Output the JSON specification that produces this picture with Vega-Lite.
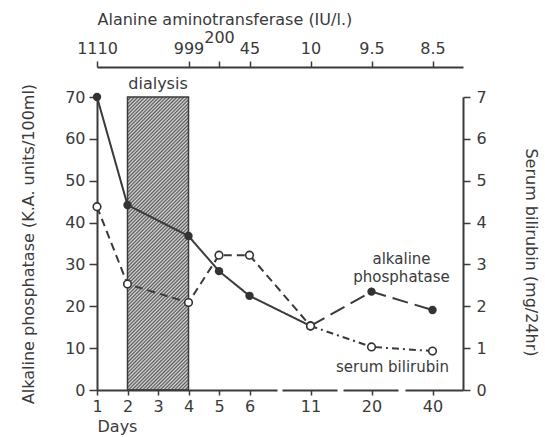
{
  "$schema": "https://vega.github.io/schema/vega-lite/v6.json",
  "width": 366,
  "height": 293,
  "autosize": "none",
  "padding": {"left": 97, "top": 97, "right": 82, "bottom": 47},
  "background": "white",
  "config": {
    "view": {"stroke": null},
    "font": "DejaVu Sans",
    "axis": {
      "domainColor": "#3a3a3a", "tickColor": "#3a3a3a", "labelColor": "#3a3a3a", "titleColor": "#3a3a3a",
      "labelFont": "DejaVu Sans", "titleFont": "DejaVu Sans", "titleFontWeight": "normal",
      "labelFontSize": 16, "titleFontSize": 16, "domainWidth": 2, "tickWidth": 1.5, "grid": false,
      "labelOverlap": false, "labelFlush": false
    }
  },
  "datasets": {
    "alk": [
      {"day": "1", "value": 70, "phase": "early"},
      {"day": "2", "value": 44.2, "phase": "early"},
      {"day": "4", "value": 36.8, "phase": "early"},
      {"day": "5", "value": 28.4, "phase": "early"},
      {"day": "6", "value": 22.5, "phase": "early"},
      {"day": "11", "value": 15.3, "phase": "early"},
      {"day": "11", "value": 15.3, "phase": "late"},
      {"day": "20", "value": 23.5, "phase": "late"},
      {"day": "40", "value": 19.1, "phase": "late"}
    ],
    "bili": [
      {"day": "1", "value": 4.38, "phase": "early"},
      {"day": "2", "value": 2.53, "phase": "early"},
      {"day": "4", "value": 2.09, "phase": "early"},
      {"day": "5", "value": 3.22, "phase": "early"},
      {"day": "6", "value": 3.22, "phase": "early"},
      {"day": "11", "value": 1.53, "phase": "early"},
      {"day": "11", "value": 1.53, "phase": "late"},
      {"day": "20", "value": 1.03, "phase": "late"},
      {"day": "40", "value": 0.93, "phase": "late"}
    ],
    "alt": [
      {"day": "1", "alt": "1110"},
      {"day": "4", "alt": "999"},
      {"day": "5", "alt": "200"},
      {"day": "6", "alt": "45"},
      {"day": "11", "alt": "10"},
      {"day": "20", "alt": "9.5"},
      {"day": "40", "alt": "8.5"}
    ]
  },
  "layer": [
    {
      "encoding": {
        "x": {
          "field": "day", "type": "ordinal",
          "scale": {"type": "point", "domain": ["1","2","3","4","5","6","7","11","15","20","30","40","50"], "range": [0, 366], "padding": 0},
          "axis": {
            "orient": "bottom", "values": ["1","2","3","4","5","6","11","20","40"], "title": "Days",
            "titleAnchor": "start", "labelAngle": 0, "tickSize": 5, "labelPadding": 3, "titlePadding": 4,
            "domainDash": [180, 5, 55, 6, 55, 7, 60]
          }
        },
        "y": {
          "field": "value", "type": "quantitative",
          "scale": {"domain": [0, 70], "nice": false},
          "axis": {
            "orient": "left", "values": [0,10,20,30,40,50,60,70],
            "title": "Alkaline phosphatase (K.A. units/100ml)", "tickSize": 8, "labelPadding": 4, "titlePadding": 28
          }
        }
      },
      "layer": [
        {
          "data": {"values": [{"event": "dialysis", "day": "2", "end": "4", "value": 70}]},
          "mark": {
            "type": "rect", "stroke": "#3a3a3a", "strokeWidth": 1.5,
            "fill": {
              "gradient": "linear", "x1": 0, "y1": 0, "x2": 0.2411, "y2": 1.158,
              "stops": [
{"offset":0,"color":"#555"},{"offset":0.005,"color":"#ddd"},{"offset":0.01,"color":"#555"},{"offset":0.015,"color":"#ddd"},{"offset":0.02,"color":"#555"},{"offset":0.025,"color":"#ddd"},{"offset":0.03,"color":"#555"},{"offset":0.035,"color":"#ddd"},{"offset":0.04,"color":"#555"},{"offset":0.045,"color":"#ddd"},
{"offset":0.05,"color":"#555"},{"offset":0.055,"color":"#ddd"},{"offset":0.06,"color":"#555"},{"offset":0.065,"color":"#ddd"},{"offset":0.07,"color":"#555"},{"offset":0.075,"color":"#ddd"},{"offset":0.08,"color":"#555"},{"offset":0.085,"color":"#ddd"},{"offset":0.09,"color":"#555"},{"offset":0.095,"color":"#ddd"},
{"offset":0.1,"color":"#555"},{"offset":0.105,"color":"#ddd"},{"offset":0.11,"color":"#555"},{"offset":0.115,"color":"#ddd"},{"offset":0.12,"color":"#555"},{"offset":0.125,"color":"#ddd"},{"offset":0.13,"color":"#555"},{"offset":0.135,"color":"#ddd"},{"offset":0.14,"color":"#555"},{"offset":0.145,"color":"#ddd"},
{"offset":0.15,"color":"#555"},{"offset":0.155,"color":"#ddd"},{"offset":0.16,"color":"#555"},{"offset":0.165,"color":"#ddd"},{"offset":0.17,"color":"#555"},{"offset":0.175,"color":"#ddd"},{"offset":0.18,"color":"#555"},{"offset":0.185,"color":"#ddd"},{"offset":0.19,"color":"#555"},{"offset":0.195,"color":"#ddd"},
{"offset":0.2,"color":"#555"},{"offset":0.205,"color":"#ddd"},{"offset":0.21,"color":"#555"},{"offset":0.215,"color":"#ddd"},{"offset":0.22,"color":"#555"},{"offset":0.225,"color":"#ddd"},{"offset":0.23,"color":"#555"},{"offset":0.235,"color":"#ddd"},{"offset":0.24,"color":"#555"},{"offset":0.245,"color":"#ddd"},
{"offset":0.25,"color":"#555"},{"offset":0.255,"color":"#ddd"},{"offset":0.26,"color":"#555"},{"offset":0.265,"color":"#ddd"},{"offset":0.27,"color":"#555"},{"offset":0.275,"color":"#ddd"},{"offset":0.28,"color":"#555"},{"offset":0.285,"color":"#ddd"},{"offset":0.29,"color":"#555"},{"offset":0.295,"color":"#ddd"},
{"offset":0.3,"color":"#555"},{"offset":0.305,"color":"#ddd"},{"offset":0.31,"color":"#555"},{"offset":0.315,"color":"#ddd"},{"offset":0.32,"color":"#555"},{"offset":0.325,"color":"#ddd"},{"offset":0.33,"color":"#555"},{"offset":0.335,"color":"#ddd"},{"offset":0.34,"color":"#555"},{"offset":0.345,"color":"#ddd"},
{"offset":0.35,"color":"#555"},{"offset":0.355,"color":"#ddd"},{"offset":0.36,"color":"#555"},{"offset":0.365,"color":"#ddd"},{"offset":0.37,"color":"#555"},{"offset":0.375,"color":"#ddd"},{"offset":0.38,"color":"#555"},{"offset":0.385,"color":"#ddd"},{"offset":0.39,"color":"#555"},{"offset":0.395,"color":"#ddd"},
{"offset":0.4,"color":"#555"},{"offset":0.405,"color":"#ddd"},{"offset":0.41,"color":"#555"},{"offset":0.415,"color":"#ddd"},{"offset":0.42,"color":"#555"},{"offset":0.425,"color":"#ddd"},{"offset":0.43,"color":"#555"},{"offset":0.435,"color":"#ddd"},{"offset":0.44,"color":"#555"},{"offset":0.445,"color":"#ddd"},
{"offset":0.45,"color":"#555"},{"offset":0.455,"color":"#ddd"},{"offset":0.46,"color":"#555"},{"offset":0.465,"color":"#ddd"},{"offset":0.47,"color":"#555"},{"offset":0.475,"color":"#ddd"},{"offset":0.48,"color":"#555"},{"offset":0.485,"color":"#ddd"},{"offset":0.49,"color":"#555"},{"offset":0.495,"color":"#ddd"},
{"offset":0.5,"color":"#555"},{"offset":0.505,"color":"#ddd"},{"offset":0.51,"color":"#555"},{"offset":0.515,"color":"#ddd"},{"offset":0.52,"color":"#555"},{"offset":0.525,"color":"#ddd"},{"offset":0.53,"color":"#555"},{"offset":0.535,"color":"#ddd"},{"offset":0.54,"color":"#555"},{"offset":0.545,"color":"#ddd"},
{"offset":0.55,"color":"#555"},{"offset":0.555,"color":"#ddd"},{"offset":0.56,"color":"#555"},{"offset":0.565,"color":"#ddd"},{"offset":0.57,"color":"#555"},{"offset":0.575,"color":"#ddd"},{"offset":0.58,"color":"#555"},{"offset":0.585,"color":"#ddd"},{"offset":0.59,"color":"#555"},{"offset":0.595,"color":"#ddd"},
{"offset":0.6,"color":"#555"},{"offset":0.605,"color":"#ddd"},{"offset":0.61,"color":"#555"},{"offset":0.615,"color":"#ddd"},{"offset":0.62,"color":"#555"},{"offset":0.625,"color":"#ddd"},{"offset":0.63,"color":"#555"},{"offset":0.635,"color":"#ddd"},{"offset":0.64,"color":"#555"},{"offset":0.645,"color":"#ddd"},
{"offset":0.65,"color":"#555"},{"offset":0.655,"color":"#ddd"},{"offset":0.66,"color":"#555"},{"offset":0.665,"color":"#ddd"},{"offset":0.67,"color":"#555"},{"offset":0.675,"color":"#ddd"},{"offset":0.68,"color":"#555"},{"offset":0.685,"color":"#ddd"},{"offset":0.69,"color":"#555"},{"offset":0.695,"color":"#ddd"},
{"offset":0.7,"color":"#555"},{"offset":0.705,"color":"#ddd"},{"offset":0.71,"color":"#555"},{"offset":0.715,"color":"#ddd"},{"offset":0.72,"color":"#555"},{"offset":0.725,"color":"#ddd"},{"offset":0.73,"color":"#555"},{"offset":0.735,"color":"#ddd"},{"offset":0.74,"color":"#555"},{"offset":0.745,"color":"#ddd"},
{"offset":0.75,"color":"#555"},{"offset":0.755,"color":"#ddd"},{"offset":0.76,"color":"#555"},{"offset":0.765,"color":"#ddd"},{"offset":0.77,"color":"#555"},{"offset":0.775,"color":"#ddd"},{"offset":0.78,"color":"#555"},{"offset":0.785,"color":"#ddd"},{"offset":0.79,"color":"#555"},{"offset":0.795,"color":"#ddd"},
{"offset":0.8,"color":"#555"},{"offset":0.805,"color":"#ddd"},{"offset":0.81,"color":"#555"},{"offset":0.815,"color":"#ddd"},{"offset":0.82,"color":"#555"},{"offset":0.825,"color":"#ddd"},{"offset":0.83,"color":"#555"},{"offset":0.835,"color":"#ddd"},{"offset":0.84,"color":"#555"},{"offset":0.845,"color":"#ddd"},
{"offset":0.85,"color":"#555"},{"offset":0.855,"color":"#ddd"},{"offset":0.86,"color":"#555"},{"offset":0.865,"color":"#ddd"},{"offset":0.87,"color":"#555"},{"offset":0.875,"color":"#ddd"},{"offset":0.88,"color":"#555"},{"offset":0.885,"color":"#ddd"},{"offset":0.89,"color":"#555"},{"offset":0.895,"color":"#ddd"},
{"offset":0.9,"color":"#555"},{"offset":0.905,"color":"#ddd"},{"offset":0.91,"color":"#555"},{"offset":0.915,"color":"#ddd"},{"offset":0.92,"color":"#555"},{"offset":0.925,"color":"#ddd"},{"offset":0.93,"color":"#555"},{"offset":0.935,"color":"#ddd"},{"offset":0.94,"color":"#555"},{"offset":0.945,"color":"#ddd"},
{"offset":0.95,"color":"#555"},{"offset":0.955,"color":"#ddd"},{"offset":0.96,"color":"#555"},{"offset":0.965,"color":"#ddd"},{"offset":0.97,"color":"#555"},{"offset":0.975,"color":"#ddd"},{"offset":0.98,"color":"#555"},{"offset":0.985,"color":"#ddd"},{"offset":0.99,"color":"#555"},{"offset":0.995,"color":"#ddd"},
{"offset":1,"color":"#555"}
              ]
            }
          },
          "encoding": {
            "x2": {"field": "end"},
            "y2": {"datum": 0}
          }
        },
        {
          "data": {"name": "alk"},
          "mark": {"type": "line", "color": "#3a3a3a", "strokeWidth": 2},
          "encoding": {
            "strokeDash": {"field": "phase", "type": "nominal", "scale": {"domain": ["early", "late"], "range": [[1, 0], [16, 7]]}, "legend": null},
            "order": {"value": null}
          }
        },
        {
          "data": {"name": "alk"},
          "mark": {"type": "point", "filled": true, "color": "#333", "size": 70, "opacity": 1}
        },
        {
          "data": {"values": [{"day": "3", "value": 70, "note": "dialysis"}]},
          "mark": {"type": "text", "dy": -13, "fontSize": 16, "color": "#3a3a3a", "font": "DejaVu Sans"},
          "encoding": {"text": {"field": "note"}}
        },
        {
          "data": {"values": [{"day": "20", "value": 31.3, "note": "alkaline\nphosphatase"}]},
          "mark": {"type": "text", "dx": 30, "fontSize": 15, "lineHeight": 18, "lineBreak": "\n", "color": "#3a3a3a", "font": "DejaVu Sans"},
          "encoding": {"text": {"field": "note"}}
        },
        {
          "data": {"values": [{"day": "20", "value": 5.5, "note": "serum bilirubin"}]},
          "mark": {"type": "text", "dx": 21, "fontSize": 15, "color": "#3a3a3a", "font": "DejaVu Sans"},
          "encoding": {"text": {"field": "note"}}
        }
      ]
    },
    {
      "data": {"name": "bili"},
      "encoding": {
        "x": {
          "field": "day", "type": "ordinal",
          "scale": {"type": "point", "domain": ["1","2","3","4","5","6","7","11","15","20","30","40","50"], "range": [0, 366], "padding": 0},
          "axis": null
        },
        "y": {
          "field": "value", "type": "quantitative",
          "scale": {"domain": [0, 7], "nice": false},
          "axis": {
            "orient": "right", "values": [0,1,2,3,4,5,6,7], "title": "Serum bilirubin (mg/24hr)",
            "tickSize": 7, "labelPadding": 6, "titlePadding": 36, "titleAngle": 90, "titleY": 155
          }
        }
      },
      "layer": [
        {
          "mark": {"type": "line", "color": "#3a3a3a", "strokeWidth": 2},
          "encoding": {
            "strokeDash": {"field": "phase", "type": "nominal", "scale": {"domain": ["early", "late"], "range": [[8, 5], [7, 4, 2, 4]]}, "legend": null},
            "order": {"value": null}
          }
        },
        {
          "mark": {"type": "point", "filled": true, "fill": "white", "stroke": "#333", "strokeWidth": 1.6, "size": 58, "opacity": 1}
        }
      ]
    },
    {
      "data": {"name": "alt"},
      "mark": {"type": "point", "opacity": 0},
      "encoding": {
        "x": {
          "field": "alt", "type": "ordinal",
          "scale": {"type": "point", "domain": ["1110","_2","_3","999","200","45","_7","10","_9","9.5","_11","8.5","_13"], "range": [0, 366], "padding": 0},
          "axis": {
            "orient": "top", "offset": 30, "values": ["1110","999","200","45","10","9.5","8.5"],
            "title": "Alanine aminotransferase (IU/l.)", "titleAnchor": "start", "labelAngle": 0,
            "tickSize": 6, "titlePadding": 2,
            "labelPadding": {"condition": {"test": "datum.value === '200'", "value": 16}, "value": 5}
          }
        }
      }
    }
  ],
  "resolve": {"scale": {"x": "independent", "y": "independent", "strokeDash": "independent"}}
}
